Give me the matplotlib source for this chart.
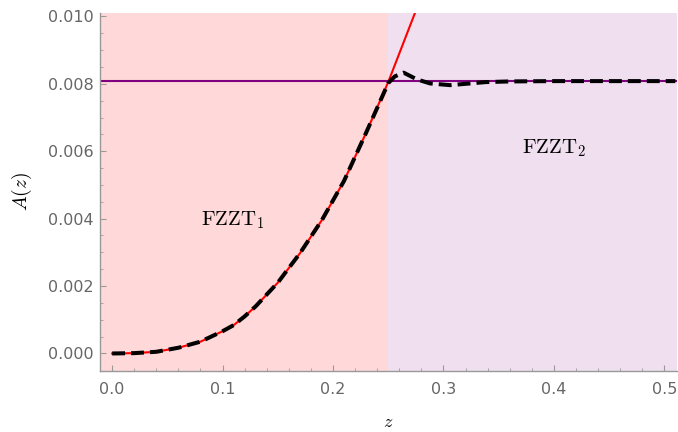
import matplotlib
matplotlib.use("Agg")
import matplotlib.pyplot as plt
import numpy as np

plt.rcParams["mathtext.fontset"] = "cm"

# red curve (FZZT_1 branch)
z_red = [0.0, 0.02, 0.04, 0.06, 0.08, 0.10, 0.11, 0.12, 0.13, 0.15, 0.17,
         0.19, 0.21, 0.23, 0.25, 0.2754]
a_red = [0.0, 0.00001, 0.00005, 0.00017, 0.00035, 0.00066, 0.00084, 0.00110,
         0.00140, 0.00210, 0.00297, 0.00396, 0.00512, 0.00655, 0.00805, 0.0102]

# black dashed curve (full solution)
z_full = [0.0, 0.02, 0.04, 0.06, 0.08, 0.10, 0.11, 0.12, 0.13, 0.15, 0.17,
          0.19, 0.21, 0.23, 0.25, 0.256, 0.264, 0.276, 0.288, 0.306, 0.324,
          0.338, 0.36, 0.40, 0.45, 0.51]
a_full = [0.0, 0.00001, 0.00005, 0.00017, 0.00035, 0.00066, 0.00084, 0.00110,
          0.00140, 0.00210, 0.00297, 0.00396, 0.00512, 0.00655, 0.00802,
          0.00822, 0.00833, 0.00813, 0.00801, 0.00796, 0.00801, 0.00805,
          0.00807, 0.00808, 0.00808, 0.00808]

a_const = 0.00807   # FZZT_2 plateau
z_split = 0.25

fig = plt.figure(figsize=(6.78, 4.32), dpi=100)
ax = fig.add_axes([0.1475, 0.1412, 0.851, 0.8287])

xlo, xhi = -0.011, 0.5115
ylo, yhi = -0.00052, 0.0101

ax.axvspan(xlo, z_split, color="#ffd9d9", lw=0)
ax.axvspan(z_split, xhi, color="#efdfef", lw=0)

ax.axhline(a_const, color="#800080", lw=1.5)
ax.plot(z_red, a_red, color="red", lw=1.5)
ax.plot(z_full, a_full, color="black", lw=2.9, dashes=(3.2, 1.5))

ax.text(0.1091, 0.00381, r"$\mathrm{FZZT}_1$", fontsize=15, ha="center", va="baseline")
ax.text(0.4004, 0.00592, r"$\mathrm{FZZT}_2$", fontsize=15, ha="center", va="baseline")

ax.set_xlim(xlo, xhi)
ax.set_ylim(ylo, yhi)

ax.set_xticks(np.arange(0, 0.51, 0.1))
ax.set_xticks(np.arange(0, 0.511, 0.02), minor=True)
ax.set_yticks(np.arange(0, 0.0101, 0.002))
ax.set_yticks(np.arange(0, 0.01001, 0.0005), minor=True)
ax.xaxis.set_major_formatter(matplotlib.ticker.FormatStrFormatter("%.1f"))
ax.yaxis.set_major_formatter(matplotlib.ticker.FormatStrFormatter("%.3f"))

for s in ["top", "right"]:
    ax.spines[s].set_visible(False)
for s in ["left", "bottom"]:
    ax.spines[s].set_color("#999999")
    ax.spines[s].set_linewidth(1.0)

ax.tick_params(which="both", direction="in", color="#999999", labelcolor="#666666",
               labelsize=11.5)
ax.tick_params(which="major", length=4.3)
ax.tick_params(which="minor", length=2.5)
ax.tick_params(axis="x", pad=8)
ax.tick_params(axis="y", pad=4.8)

ax.set_xlabel("$z$", fontsize=13)
ax.set_ylabel("$A(z)$", fontsize=14)
ax.xaxis.set_label_coords(0.5, -0.143)
ax.xaxis.label.set_va("center")
ax.yaxis.set_label_coords(-0.135, 0.5)
ax.yaxis.label.set_va("center")

fig.savefig("out.png", dpi=100)
